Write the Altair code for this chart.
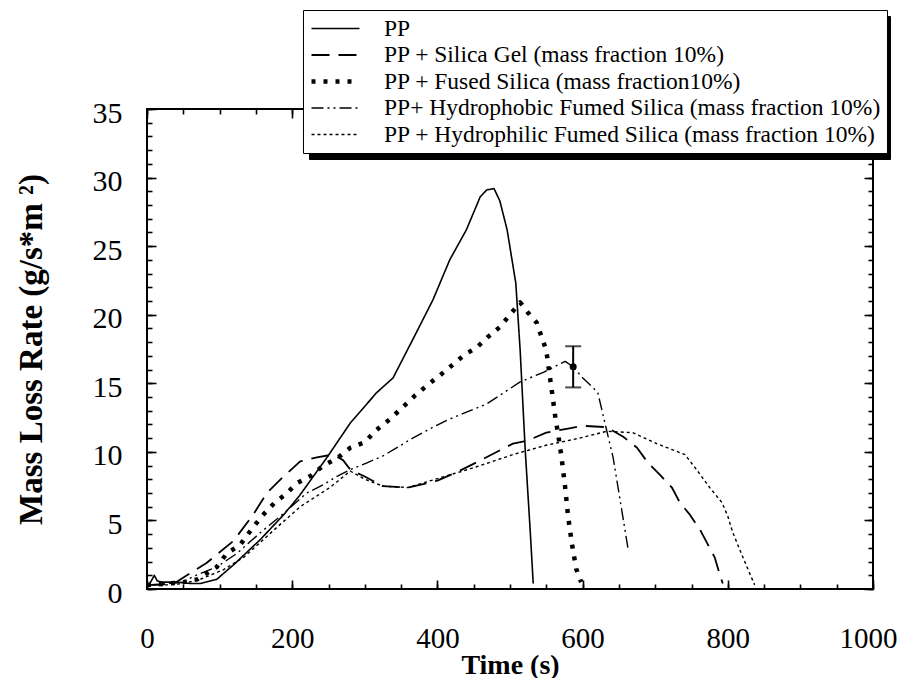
import altair as alt
import pandas as pd

series_names = [
    "PP",
    "PP + Silica Gel (mass fraction 10%)",
    "PP + Fused Silica (mass fraction10%)",
    "PP+ Hydrophobic Fumed Silica (mass fraction 10%)",
    "PP + Hydrophilic Fumed Silica (mass fraction 10%)",
]

pp_t = [0, 5, 10, 14, 20, 40, 60, 73, 96, 120, 156, 188, 210, 248, 280, 316, 339, 371, 394, 417, 440, 459, 468, 478, 486, 496, 508, 514, 521, 528, 532]
pp_y = [0.2, 0.5, 1.0, 0.6, 0.5, 0.5, 0.4, 0.4, 0.7, 1.8, 3.6, 5.4, 6.8, 9.6, 12.1, 14.3, 15.4, 18.7, 21.1, 24.0, 26.2, 28.6, 29.1, 29.2, 28.3, 26.2, 22.3, 17.4, 10.1, 4.1, 0.4]

gel_t = [0, 20, 40, 55, 82, 119, 146, 165, 188, 211, 234, 256, 270, 280, 300, 325, 360, 400, 430, 460, 504, 523, 550, 580, 600, 633, 656, 675, 690, 707, 723, 734, 748, 762, 771, 782, 787, 793]
gel_y = [0.3, 0.3, 0.5, 1.0, 1.9, 3.5, 5.4, 7.0, 8.2, 9.3, 9.6, 9.8, 9.4, 8.7, 8.2, 7.5, 7.4, 7.9, 8.6, 9.4, 10.6, 10.8, 11.4, 11.7, 11.9, 11.8, 11.1, 10.3, 9.2, 8.3, 7.4, 6.3, 5.4, 4.3, 3.4, 2.3, 1.4, 0.4]

fused_t = [0, 30, 50, 69, 96, 110, 128, 142, 158, 176, 193, 206, 227, 243, 261, 280, 300, 316, 335, 353, 369, 387, 404, 438, 454, 470, 486, 500, 514, 524, 537, 544, 550, 553, 558, 563, 566, 571, 576, 580, 585, 591, 598]
fused_y = [0.3, 0.4, 0.5, 0.7, 1.6, 2.6, 3.2, 4.2, 5.3, 6.3, 7.0, 7.7, 8.3, 9.0, 9.5, 10.3, 10.7, 11.6, 12.4, 13.3, 14.1, 14.9, 15.6, 17.1, 17.6, 18.4, 19.1, 20.0, 20.9, 20.2, 19.4, 18.3, 17.4, 16.2, 14.3, 12.3, 11.4, 9.6, 7.4, 5.3, 3.4, 1.5, 0.5]

phob_t = [0, 30, 50, 63, 96, 124, 156, 188, 220, 243, 261, 280, 303, 325, 366, 394, 413, 440, 468, 514, 546, 576, 587, 600, 614, 621, 633, 642, 651, 663]
phob_y = [0.3, 0.4, 0.5, 0.9, 1.6, 2.6, 4.1, 5.5, 7.0, 7.6, 8.2, 8.7, 9.2, 9.7, 11.0, 11.8, 12.3, 12.9, 13.5, 15.1, 15.8, 16.6, 16.2, 15.4, 14.7, 14.3, 11.6, 9.6, 6.7, 2.8]

phil_t = [0, 30, 50, 73, 105, 133, 156, 179, 211, 252, 280, 300, 325, 360, 403, 435, 459, 504, 551, 596, 633, 669, 702, 741, 757, 775, 792, 800, 807, 817, 828, 837]
phil_y = [0.3, 0.3, 0.4, 0.7, 1.4, 2.3, 3.4, 4.5, 6.0, 7.4, 8.6, 8.0, 7.5, 7.4, 8.1, 8.6, 9.0, 9.8, 10.5, 11.0, 11.5, 11.4, 10.6, 9.8, 8.7, 7.4, 6.3, 5.3, 4.1, 2.8, 1.4, 0.3]

# error bar on the hydrophobic curve
err_t = [587]
err_mid = [16.2]
err_lo = [14.7]
err_hi = [17.7]

x_major = [0, 200, 400, 600, 800, 1000]
x_minor = list(range(0, 1001, 50))
y_major = [0, 5, 10, 15, 20, 25, 30, 35]
y_minor = list(range(0, 36))

dash_patterns = [[1, 0], [18, 9], [4, 8], [12, 4, 2, 4, 2, 4], [3, 3]]
stroke_widths = [1.6, 1.8, 4.5, 1.4, 1.4]

all_t = [pp_t, gel_t, fused_t, phob_t, phil_t]
all_y = [pp_y, gel_y, fused_y, phob_y, phil_y]

rows = []
for name, ts, ys in zip(series_names, all_t, all_y):
    for t, v in zip(ts, ys):
        rows.append({"series": name, "shadow": name + " ", "t": t, "rate": v})
df = pd.DataFrame(rows)

err_df = pd.DataFrame({"t": err_t, "mid": err_mid, "lo": err_lo, "hi": err_hi})
caps_df = pd.DataFrame({"t": err_t * 2, "v": err_lo + err_hi})

FONT = "Liberation Serif"
xs = alt.Scale(domain=[0, 1000], nice=False, zero=False)
ys = alt.Scale(domain=[0, 35], nice=False, zero=False)


def ax(orient, values, size, labels=False, title=None, **kw):
    args = dict(orient=orient, values=values, tickSize=size, offset=-size,
                labels=labels, domain=False, grid=False, ticks=True,
                tickColor="black", tickWidth=1.6)
    args["title"] = title if title is not None else None
    args.update(kw)
    return alt.Axis(**args)


legend_common = dict(orient="none", title=None,
                     labelFont=FONT, labelFontSize=23.5, labelLimit=800,
                     labelColor="black",
                     symbolType="stroke", symbolSize=2304, clipHeight=25,
                     rowPadding=1.5, labelOffset=22, symbolStrokeColor="black")

# main legend (white box) and an offset black box under it acting as its shadow
main_legend = alt.Legend(legendX=156, legendY=-99, fillColor="white", padding=6,
                         strokeColor="black", zindex=3, **legend_common)

lines = alt.Chart(df).mark_line(strokeJoin="round").encode(
    x=alt.X("t:Q", scale=xs,
            axis=ax("bottom", x_major, 9, labels=True, title="Time (s)",
                    format="d",
                    labelFont=FONT, labelFontSize=29, labelColor="black",
                    labelPadding=35, labelFlush=False,
                    labelOffset={"condition": {"test": "datum.value == 1000", "value": -5}, "value": 0},
                    titleFont=FONT, titleFontSize=28, titleFontWeight="bold",
                    titleColor="black", titleBaseline="alphabetic", titleY=93)),
    y=alt.Y("rate:Q", scale=ys,
            axis=ax("left", y_major, 9, labels=True,
                    title="Mass Loss Rate  (g/s*m    ²)",
                    labelFont=FONT, labelFontSize=30, labelColor="black",
                    labelPadding=25, labelOffset=4,
                    titleFont=FONT, titleFontSize=33, titleFontWeight="bold",
                    titleColor="black", titlePadding=44)),
    strokeDash=alt.StrokeDash("series:N",
                              scale=alt.Scale(domain=series_names, range=dash_patterns),
                              legend=main_legend),
    strokeWidth=alt.StrokeWidth("series:N",
                                scale=alt.Scale(type="ordinal", domain=series_names, range=stroke_widths),
                                legend=main_legend),
    color=alt.Color("shadow:N",
                    scale=alt.Scale(range=["black"] * 5),
                    legend=alt.Legend(legendX=162, legendY=-93, padding=6,
                                      fillColor="black", strokeColor="black", zindex=1,
                                      **legend_common)),
    order=alt.Order("t:Q"),
)

err_rule = alt.Chart(err_df).mark_rule(color="black", strokeWidth=2).encode(
    x=alt.X("t:Q", scale=xs, axis=ax("bottom", x_minor, 5)),
    y=alt.Y("lo:Q", scale=ys, axis=ax("left", y_minor, 5)),
    y2="hi:Q",
)

err_point = alt.Chart(err_df).mark_point(filled=True, color="black", size=50, opacity=1).encode(
    x=alt.X("t:Q", scale=xs, axis=ax("top", x_major, 9)),
    y=alt.Y("mid:Q", scale=ys, axis=ax("right", y_major, 9)),
)

err_caps = alt.Chart(caps_df).mark_tick(orient="horizontal", color="black", size=16, thickness=2).encode(
    x=alt.X("t:Q", scale=xs, axis=ax("top", x_minor, 5)),
    y=alt.Y("v:Q", scale=ys, axis=ax("right", y_minor, 5)),
)

chart = alt.layer(lines, err_rule, err_point, err_caps).resolve_axis(
    x="independent", y="independent"
).properties(
    width=726, height=480,
    autosize=alt.AutoSizeParams(type="none"),
    padding={"left": 139, "top": 101, "right": 25, "bottom": 89},
    background="white",
).configure_view(stroke="black", strokeWidth=2)

chart.save("out.html", embed_options={"renderer": "svg", "actions": False})
